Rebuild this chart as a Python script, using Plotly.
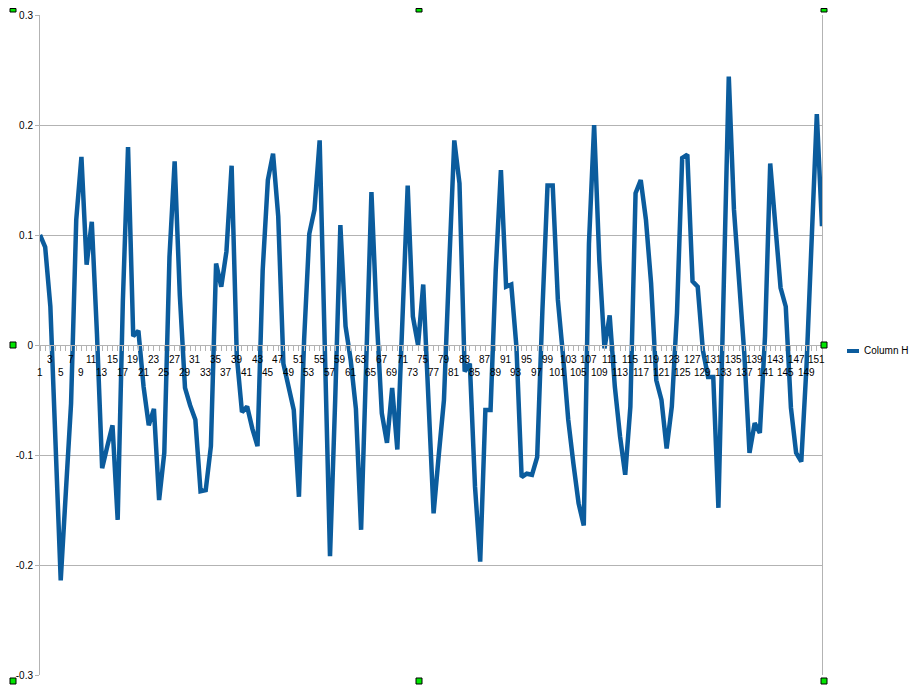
import plotly.graph_objects as go

# ---- data ----
categories = list(range(1, 153))
column_h = [
    0.100, 0.089, 0.035, -0.089, -0.214, -0.133, -0.053, 0.114, 0.171, 0.073,
    0.112, 0.010, -0.112, -0.092, -0.073, -0.159, 0.040, 0.180, 0.008, 0.013,
    -0.038, -0.073, -0.058, -0.141, -0.098, 0.080, 0.167, 0.045, -0.039, -0.055,
    -0.068, -0.133, -0.132, -0.092, 0.074, 0.053, 0.085, 0.163, -0.010, -0.061,
    -0.056, -0.076, -0.092, 0.068, 0.150, 0.174, 0.117, -0.017, -0.039, -0.059,
    -0.138, 0.005, 0.101, 0.123, 0.186, 0.000, -0.192, -0.050, 0.109, 0.017,
    -0.014, -0.058, -0.168, -0.015, 0.139, 0.026, -0.062, -0.089, -0.039, -0.095,
    0.030, 0.145, 0.026, 0.000, 0.055, -0.050, -0.153, -0.100, -0.050, 0.071,
    0.186, 0.147, -0.024, -0.017, -0.129, -0.197, -0.059, -0.059, 0.068, 0.159,
    0.053, 0.055, -0.002, -0.120, -0.117, -0.118, -0.102, 0.030, 0.145, 0.145,
    0.041, -0.010, -0.068, -0.108, -0.144, -0.164, 0.092, 0.200, 0.077, -0.003,
    0.027, -0.038, -0.083, -0.118, -0.056, 0.138, 0.150, 0.114, 0.056, -0.032,
    -0.050, -0.094, -0.056, 0.029, 0.170, 0.173, 0.058, 0.053, -0.005, -0.029,
    -0.029, -0.148, 0.050, 0.244, 0.123, 0.062, -0.008, -0.098, -0.071, -0.080,
    0.008, 0.165, 0.114, 0.052, 0.035, -0.057, -0.098, -0.106, -0.020, 0.100,
    0.210, 0.108,
]
series_name = "Column H"
y_tick_values = [-0.3, -0.2, -0.1, 0.0, 0.1, 0.2, 0.3]
y_tick_labels = ["-0.3", "-0.2", "-0.1", "0", "0.1", "0.2", "0.3"]
x_tick_labels = [str(c) for c in categories if c % 2 == 1]   # 1, 3, 5, ... 151

# ---- style ----
LINE_COLOR = "#0b5c9d"
GRID = "#b3b3b3"
FONT = "Liberation Sans"
OFF = 8                      # page body margin of the rendered html
W, H = 924 - OFF, 698 - OFF
L, R, T, B = 40 - OFF, 102, 15 - OFF, 23
PW, PH = W - L - R, H - T - B


def px_x(px):
    return (px - OFF - L) / PW


def px_y(py):
    return (H - B - (py - OFF)) / PH


fig = go.Figure()
fig.add_trace(go.Scatter(
    x=categories, y=column_h, mode="lines", name=series_name,
    line=dict(color=LINE_COLOR, width=4.5), showlegend=False,
    hoverinfo="x+y",
))

fig.update_layout(
    width=W, height=H,
    margin=dict(l=L, r=R, t=T, b=B, pad=0),
    paper_bgcolor="white", plot_bgcolor="white",
    font=dict(family=FONT, size=10, color="#000000"),
    xaxis=dict(
        range=[1, 152], anchor="free", position=0.5,
        showgrid=False, zeroline=False, automargin=False,
        showline=True, linecolor=GRID, linewidth=1,
        ticks="outside", ticklen=5, tickcolor=GRID, tickwidth=1,
        tickvals=categories, showticklabels=False,
    ),
    yaxis=dict(
        range=[-0.3, 0.3], tickvals=y_tick_values, ticktext=y_tick_labels,
        showgrid=True, gridcolor=GRID, gridwidth=1, zeroline=False,
        showline=True, linecolor=GRID, linewidth=1, mirror=True,
        ticks="outside", ticklen=4, tickcolor=GRID, automargin=False,
    ),
)

# staggered category labels (two rows, as in the reference)
for lab in x_tick_labels:
    c = int(lab)
    upper = (c % 4 == 3)
    fig.add_annotation(text=lab, x=c, y=0, xref="x", yref="y",
                       xanchor="center", yanchor="middle",
                       yshift=-14 if upper else -27,
                       showarrow=False, font=dict(size=10, color="#000000"))

# manual legend
ly = px_y(351)
fig.add_shape(type="line", xref="paper", yref="paper",
              x0=px_x(847), x1=px_x(859), y0=ly, y1=ly,
              line=dict(color=LINE_COLOR, width=4))
fig.add_annotation(text=series_name, xref="paper", yref="paper",
                   x=px_x(862), y=ly, xanchor="left", yanchor="middle",
                   showarrow=False, font=dict(size=10, color="#000000"))

# selection handles
for hx, hy in [(13, 9), (419, 9), (824, 9), (13, 345), (824, 345),
               (13, 681), (419, 681), (824, 681)]:
    top = max(hy - 3, OFF + 0.5)
    fig.add_shape(type="rect", xref="paper", yref="paper",
                  x0=px_x(hx - 3), x1=px_x(hx + 3), y0=px_y(hy + 3), y1=px_y(top),
                  fillcolor="#00e600", line=dict(color="#000000", width=1))

fig.write_html("out.html")
